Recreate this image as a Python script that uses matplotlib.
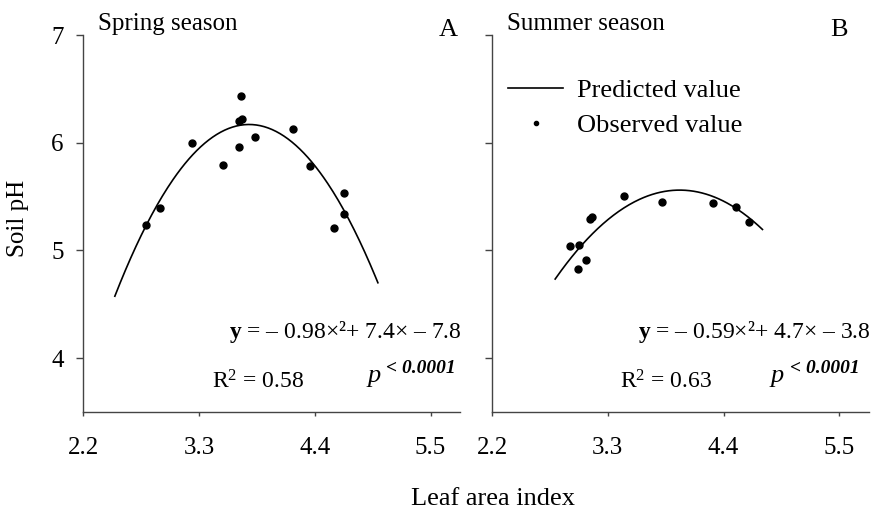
import numpy as np
import matplotlib
matplotlib.use("Agg")
import matplotlib.pyplot as plt
from matplotlib.lines import Line2D

plt.rcParams['text.kerning_factor'] = 6
plt.rcParams['font.family'] = ['Liberation Serif', 'DejaVu Serif']
plt.rcParams['mathtext.fontset'] = 'custom'
plt.rcParams['mathtext.rm'] = 'Liberation Serif'
plt.rcParams['mathtext.bf'] = 'Liberation Serif:bold'
plt.rcParams['mathtext.it'] = 'Liberation Serif:italic'

# data
spring_lai = [2.80, 2.93, 3.23, 3.53, 3.68, 3.68, 3.71, 3.70, 3.83, 4.19, 4.35, 4.68, 4.68, 4.58]
spring_ph = [5.24, 5.39, 6.00, 5.79, 5.96, 6.20, 6.22, 6.43, 6.05, 6.13, 5.78, 5.53, 5.34, 5.21]
summer_lai = [2.94, 3.03, 3.02, 3.09, 3.13, 3.15, 3.45, 3.82, 4.30, 4.52, 4.64]
summer_ph = [5.04, 5.05, 4.83, 4.91, 5.29, 5.31, 5.51, 5.45, 5.44, 5.40, 5.26]

# fitted quadratics (coefficients as printed) and the range they are drawn over
spring_coef = [-0.98, 7.4, -7.8]
summer_coef = [-0.59, 4.7, -3.8]
spring_span = (2.5, 5.0)
summer_span = (2.8, 4.77)

xticks = [2.2, 3.3, 4.4, 5.5]
yticks = [4, 5, 6, 7]

panels = [
    dict(title="Spring season", tag="A", x=spring_lai, y=spring_ph, coef=spring_coef,
         span=spring_span, eq="$\\mathbf{y}$ = \u2013 0.98\u00d7\u00b2+ 7.4\u00d7 \u2013 7.8", r2="0.58"),
    dict(title="Summer season", tag="B", x=summer_lai, y=summer_ph, coef=summer_coef,
         span=summer_span, eq="$\\mathbf{y}$ = \u2013 0.59\u00d7\u00b2+ 4.7\u00d7 \u2013 3.8", r2="0.63"),
]

fig = plt.figure(figsize=(8.71, 5.12), dpi=100)
lefts = [0.0956, 0.5649]
axes = []
fs = 18
for i, (p, left) in enumerate(zip(panels, lefts)):
    ax = fig.add_axes([left, 0.1953, 0.4325, 0.7363])
    axes.append(ax)
    xs = np.linspace(p["span"][0], p["span"][1], 200)
    ax.plot(xs, np.polyval(p["coef"], xs), color="black", lw=1.2)
    ax.plot(p["x"], p["y"], "o", color="black", ms=5, mec="black")
    ax.set_xlim(2.2, 5.78)
    ax.set_ylim(3.5, 7.0)
    ax.set_xticks(xticks)
    ax.set_xticklabels([str(t) for t in xticks], fontsize=fs)
    ax.set_yticks(yticks)
    if i == 0:
        ax.set_yticklabels([str(t) for t in yticks], fontsize=fs)
    else:
        ax.set_yticklabels([])
    for s in ["top", "right"]:
        ax.spines[s].set_visible(False)
    for s in ["left", "bottom"]:
        ax.spines[s].set_color("#444444")
        ax.spines[s].set_linewidth(1.0)
    ax.tick_params(axis="x", direction="out", length=3, width=1, color="#444444", pad=15)
    ax.tick_params(axis="y", direction="out", length=5, width=1, color="#444444", pad=9)

    ax.text(2.34, 7.05, p["title"], fontsize=18, ha="left", va="baseline", clip_on=False)
    ax.text(5.67 if i == 0 else 5.5, 6.995, p["tag"], fontsize=19, ha="center", va="baseline", clip_on=False)
    ax.text(5.8, 4.24, p["eq"], fontsize=17, ha="right", va="center", clip_on=False)
    ax.text(3.42, 3.72, "R$^2$ = " + p["r2"], fontsize=17, ha="left", va="baseline")
    px = 4.90 if i == 0 else 4.85
    ax.text(px, 3.78, "p", fontsize=19, style="italic", ha="left", va="baseline")
    ax.text(px + 0.18, 3.90, "< 0.0001", fontsize=14, style="italic", weight="bold",
            ha="left", va="center")

handles = [Line2D([], [], color="black", lw=1.2),
           Line2D([], [], color="black", ls="none", marker="o", ms=3)]
axes[1].legend(handles, ["Predicted value", "Observed value"], loc="upper left",
               bbox_to_anchor=(0.0425, 0.885), frameon=False, fontsize=19,
               borderpad=0, borderaxespad=0, handlelength=2.1, handletextpad=0.5,
               labelspacing=0.45)

fig.text(18 / 871, 1 - 218 / 512, "Soil pH", rotation=90, fontsize=18, ha="center", va="center")
fig.text(493 / 871, 1 - 499 / 512, "Leaf area index", fontsize=19, ha="center", va="center")

fig.savefig("out.png", dpi=100)
